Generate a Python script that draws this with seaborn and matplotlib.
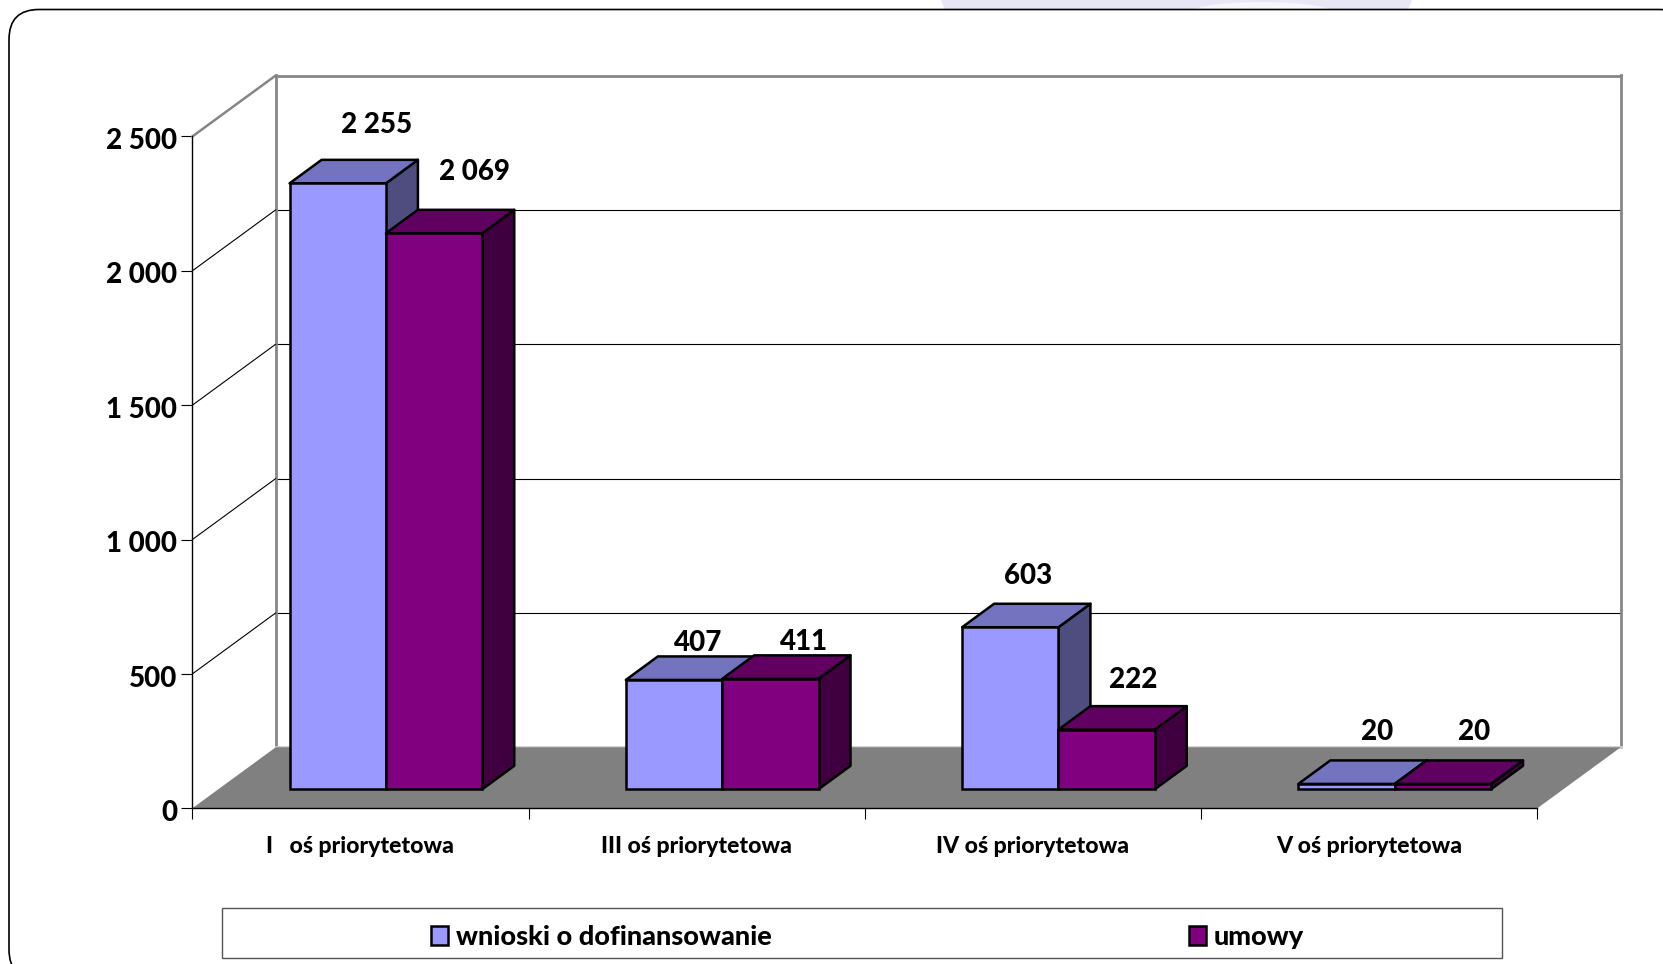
import matplotlib
matplotlib.use("Agg")
import matplotlib.pyplot as plt
from matplotlib.patches import FancyBboxPatch, Polygon, Rectangle, Ellipse
from matplotlib.transforms import ScaledTranslation
import pandas as pd
import seaborn as sns

categories = ["I   oś priorytetowa", "III oś priorytetowa", "IV oś priorytetowa", "V oś priorytetowa"]
wnioski = [2255, 407, 603, 20]
umowy = [2069, 411, 222, 20]
series_names = ["wnioski o dofinansowanie", "umowy"]
y_ticks = [0, 500, 1000, 1500, 2000, 2500]
y_tick_labels = ["0", "500", "1 000", "1 500", "2 000", "2 500"]

W, H = 1663, 964
sns.set_theme(style="white")
plt.rcParams["font.family"] = ["Lato", "DejaVu Sans"]
WEIGHT = 900

# layout in pixels
AX_L, AX_R, AX_TOP, AX_BOT = 192.3, 1537.3, 136.5, 808.3
WALL_DX, WALL_DY = 83.4, 61.0
BAR_DX, BAR_DY = 25.5, 19.0
DEPTH_X, DEPTH_Y = 32.0, 23.5
COLORS = ["#9999FF", "#800080"]
TOP_COLORS = ["#7373BF", "#600060"]
SIDE_COLORS = ["#4D4D80", "#400040"]
GRAY = "#868686"

fig = plt.figure(figsize=(W / 100, H / 100), dpi=100, facecolor="white")


def axes_at(dx=0.0, dy=0.0, zorder=1):
    a = fig.add_axes([(AX_L + dx) / W, (H - AX_BOT + dy) / H,
                      (AX_R - AX_L) / W, (AX_BOT - AX_TOP) / H], zorder=zorder)
    a.patch.set_alpha(0)
    a.set_xlim(-0.5, 3.5)
    a.set_ylim(0, 2500)
    return a


# pixel background: decoration, rounded frame, legend box
bg = fig.add_axes([0, 0, 1, 1], zorder=0)
bg.set_xlim(0, W)
bg.set_ylim(H, 0)
bg.axis("off")
bg.add_patch(Polygon([(941, 0), (1412, 0), (1408, 10), (945, 10)], closed=True,
                     facecolor="#E9E7F5", edgecolor="none"))
bg.add_patch(Ellipse((1262, 14), 150, 24, facecolor="#F7F6FB", edgecolor="none"))
bg.add_patch(FancyBboxPatch((9 + 30, 9.5 + 30), 1680 - 60, 970 - 60,
                            boxstyle="round,pad=30,rounding_size=30",
                            facecolor="white", edgecolor="black", linewidth=1.2, clip_on=True))
bg.add_patch(Rectangle((221.5, 908), 1280, 50, facecolor="white", edgecolor="#555555", linewidth=1.0))

# back wall
wall = axes_at(WALL_DX, WALL_DY, zorder=1)
wall.set_yticks([t for t in y_ticks if 0 < t < 2500])
wall.set_xticks([])
wall.tick_params(length=0, labelleft=False)
wall.grid(axis="y", color="black", linewidth=0.8)
for name, sp in wall.spines.items():
    sp.set_visible(True)
    sp.set_color(GRAY if name != "bottom" else "#d0d0d0")
    sp.set_linewidth(2.0)

# front axes: floor, side wall, ticks
ax = axes_at(zorder=2)
cat_px = (AX_R - AX_L) / len(categories)
unit_px = (AX_BOT - AX_TOP) / (y_ticks[-1] - y_ticks[0])
wdx, wdy = WALL_DX / cat_px, WALL_DY / unit_px
ax.add_patch(Polygon([(-0.5, 0), (3.5, 0), (3.5 + wdx, wdy), (-0.5 + wdx, wdy)], closed=True,
                     facecolor="#808080", edgecolor="none", clip_on=False, zorder=1))
for t in y_ticks[1:]:
    top = t == y_ticks[-1]
    ax.plot([-0.5, -0.5 + wdx], [t, t + wdy], color=GRAY if top else "black",
            linewidth=1.8 if top else 0.8, clip_on=False, zorder=1)
sns.despine(ax=ax, top=True, right=True)
for name in ("left", "bottom"):
    ax.spines[name].set_color("black")
    ax.spines[name].set_linewidth(1.0)
ax.set_yticks(y_ticks)
ax.set_yticklabels(y_tick_labels, fontsize=20, fontweight=WEIGHT, color="black")
ax.set_xticks([-0.5, 0.5, 1.5, 2.5, 3.5])
ax.set_xticklabels([])
ax.set_xticks(range(len(categories)), categories, minor=True, fontsize=16.6, fontweight=WEIGHT, color="black")
ax.tick_params(axis="y", left=True, length=8, width=0.8, color="black", pad=3)
ax.tick_params(axis="x", which="major", bottom=True, length=8, width=0.8, color="black")
ax.tick_params(axis="x", which="minor", bottom=False, length=0, pad=20)
for lab in ax.get_yticklabels():
    lab.set_transform(lab.get_transform() + ScaledTranslation(0, -1.5 / 72, fig.dpi_scale_trans))

# bars
df = pd.DataFrame({
    "category": categories * 2,
    "value": wnioski + umowy,
    "series": [series_names[0]] * len(wnioski) + [series_names[1]] * len(umowy),
})
bar_ax = axes_at(BAR_DX, BAR_DY, zorder=3)
sns.barplot(data=df, x="category", y="value", hue="series", order=categories,
            hue_order=series_names, palette=COLORS, width=0.573, gap=0, saturation=1,
            edgecolor="black", linewidth=1.8, ax=bar_ax, clip_on=False)
bar_ax.set_xlim(-0.5, 3.5)
bar_ax.set_ylim(0, 2500)
bar_ax.axis("off")

ddx, ddy = DEPTH_X / cat_px, DEPTH_Y / unit_px
# label offsets (pixels from centre of a bar's top front edge)
label_offsets = [[(39, 58), (24, 37), (18, 51), (31, 52)],
                 [(40, 61), (34, 37), (27, 50), (31, 52)]]
for i, cont in enumerate(bar_ax.containers):
    for j, b in enumerate(cont):
        x0, x1, h = b.get_x(), b.get_x() + b.get_width(), b.get_height()
        z = 3 + i * 2 + j * 0.01
        bar_ax.add_patch(Polygon([(x1, 0), (x1 + ddx, ddy), (x1 + ddx, h + ddy), (x1, h)], closed=True,
                                 facecolor=SIDE_COLORS[i], edgecolor="black", linewidth=1.8,
                                 joinstyle="round", clip_on=False, zorder=z))
        bar_ax.add_patch(Polygon([(x0, h), (x0 + ddx, h + ddy), (x1 + ddx, h + ddy), (x1, h)], closed=True,
                                 facecolor=TOP_COLORS[i], edgecolor="black", linewidth=1.8,
                                 joinstyle="round", clip_on=False, zorder=z))
        b.set_zorder(z + 0.5)
        ox, oy = label_offsets[i][j]
        bar_ax.annotate(f"{int(h):,}".replace(",", " "), xy=((x0 + x1) / 2, h),
                        xytext=(ox * 0.72, oy * 0.72), textcoords="offset points",
                        ha="center", va="center", fontsize=20, fontweight=WEIGHT,
                        color="black", annotation_clip=False, zorder=20)

sns.move_legend(bar_ax, "center", bbox_to_anchor=(420.5 / W, 1 - 962 / H, (1315 - 420.5) / W, 50 / H),
                bbox_transform=fig.transFigure, mode="expand", ncol=2, frameon=False, title=None,
                handlelength=0.62, handleheight=0.75, handletextpad=0.3, borderaxespad=0,
                labelcolor="black", prop={"weight": WEIGHT, "size": 19.5})

fig.savefig("out.png", dpi=100)
